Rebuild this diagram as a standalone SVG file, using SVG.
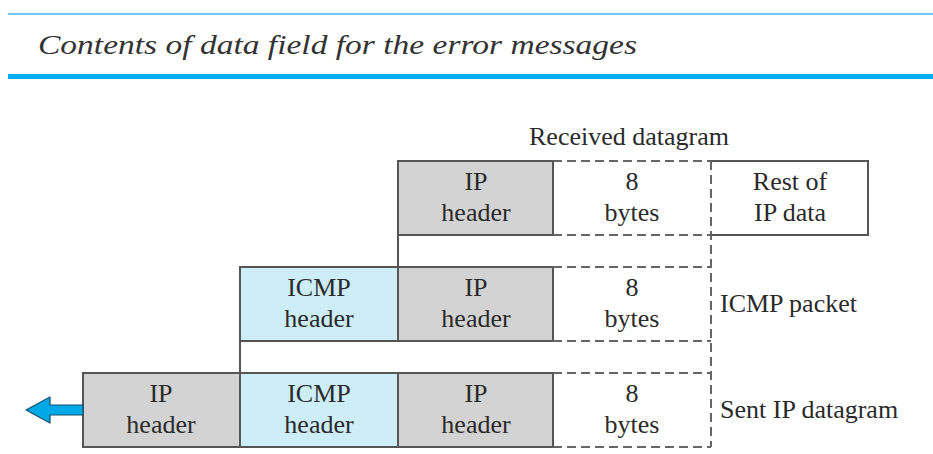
<svg xmlns="http://www.w3.org/2000/svg" width="933" height="454" viewBox="0 0 933 454">
<style>
.t{font-family:"Times New Roman",Tinos,"Liberation Serif","Noto Serif","Nimbus Roman",FreeSerif,Times,serif;font-size:26px;fill:#2a2a2a;text-anchor:middle}
.l{font-family:"Times New Roman",Tinos,"Liberation Serif","Noto Serif","Nimbus Roman",FreeSerif,Times,serif;font-size:26px;fill:#2a2a2a}
.ip{fill:#d3d3d3;stroke:#555;stroke-width:2}
.icmp{fill:#cdedf8;stroke:#555;stroke-width:2}
.d{fill:none;stroke:#666;stroke-width:2;stroke-dasharray:9 5}
.s{fill:none;stroke:#555;stroke-width:2}
</style>
<rect width="933" height="454" fill="#fff"/>
<g id="title">
<rect x="8" y="13" width="925" height="2" fill="#6ccaf2"/>
<rect x="8" y="74" width="925" height="5" fill="#00aeef"/>
<text x="38" y="54" style="font-family:'Times New Roman',Tinos,'Liberation Serif','Noto Serif',Times,serif;font-style:italic;font-size:27px" fill="#333" textLength="599" lengthAdjust="spacingAndGlyphs">Contents of data field for the error messages</text>
</g>
<g id="connectors">
<line class="s" x1="398" y1="235" x2="398" y2="267"/>
<line class="s" x1="240" y1="341" x2="240" y2="373"/>
<line class="d" x1="711" y1="161" x2="711" y2="447"/>
</g>
<g id="received">
<text class="t" x="629" y="145">Received datagram</text>
<rect class="ip" x="398" y="161" width="155" height="74"/>
<text class="t" x="476" y="190">IP</text><text class="t" x="476" y="221">header</text>
<path class="d" d="M553 161H711M553 235H711"/>
<text class="t" x="632" y="190">8</text><text class="t" x="632" y="221">bytes</text>
<path class="s" d="M711 161H868V235H711"/>
<text class="t" x="790" y="190">Rest of</text><text class="t" x="790" y="221">IP data</text>
</g>
<g id="icmp-packet">
<rect class="icmp" x="240" y="267" width="158" height="74"/>
<text class="t" x="319" y="296">ICMP</text><text class="t" x="319" y="327">header</text>
<rect class="ip" x="398" y="267" width="155" height="74"/>
<text class="t" x="476" y="296">IP</text><text class="t" x="476" y="327">header</text>
<path class="d" d="M553 267H711M553 341H711"/>
<text class="t" x="632" y="296">8</text><text class="t" x="632" y="327">bytes</text>
<text class="l" x="720" y="312">ICMP packet</text>
</g>
<g id="sent">
<rect class="ip" x="83" y="373" width="157" height="74"/>
<text class="t" x="161" y="402">IP</text><text class="t" x="161" y="433">header</text>
<rect class="icmp" x="240" y="373" width="158" height="74"/>
<text class="t" x="319" y="402">ICMP</text><text class="t" x="319" y="433">header</text>
<rect class="ip" x="398" y="373" width="155" height="74"/>
<text class="t" x="476" y="402">IP</text><text class="t" x="476" y="433">header</text>
<path class="d" d="M553 373H711M553 447H711"/>
<text class="t" x="632" y="402">8</text><text class="t" x="632" y="433">bytes</text>
<text class="l" x="720" y="418">Sent IP datagram</text>
</g>
<g id="arrow">
<path d="M83 405H50V397L26 410L50 423V415H83Z" fill="#00a8e8" stroke="#1a4f6a" stroke-width="1.2" stroke-linejoin="round"/>
</g>
</svg>
